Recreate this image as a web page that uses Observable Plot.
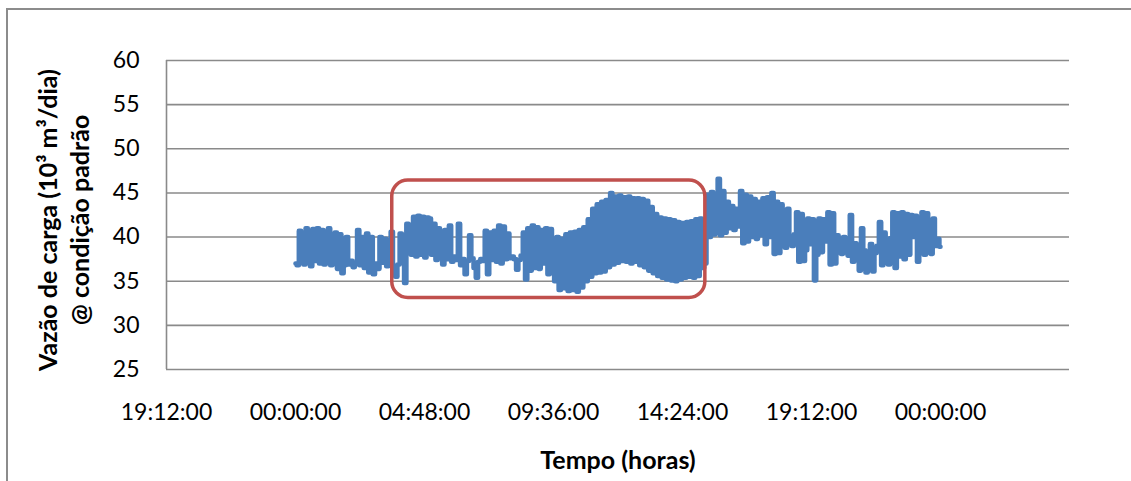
<!DOCTYPE html>
<html>
<head>
<meta charset="utf-8">
<script src="https://cdn.jsdelivr.net/npm/d3@7"></script>
<script src="https://cdn.jsdelivr.net/npm/@observablehq/plot@0.6"></script>
<style>
  html, body { margin: 0; padding: 0; background: #fff; }
  #wrap { position: relative; width: 1131px; height: 481px; overflow: hidden; }
  #frame { position: absolute; left: 6px; top: 8px; width: 1300px; height: 700px;
           border-left: 2px solid #8c8c8c; border-top: 2px solid #8c8c8c;
           pointer-events: none; z-index: 2; }
  #chart { position: absolute; left: 0; top: 0; }
</style>
</head>
<body>
<div id="wrap">
  <div id="chart"></div>
  <div id="frame"></div>
</div>
<script>
// Flow rate readings, one every 5 minutes over 24 h (10^3 m3/dia @ condição padrão)
const sampleMinutes = 5;
const flowRate = [
  37.0, 36.8, 40.7, 37.2, 36.9, 41.0, 37.1, 36.7, 40.9, 37.3, 41.0, 37.0, // 00h
  40.8, 36.9, 37.2, 41.0, 36.8, 37.0, 40.5, 36.4, 40.3, 35.9, 36.8, 40.0, // 01h
  36.9, 37.3, 36.6, 37.1, 40.8, 36.8, 40.0, 36.5, 40.4, 36.0, 40.0, 35.8, // 02h
  37.0, 36.4, 40.0, 37.1, 39.8, 36.7, 39.5, 40.6, 36.2, 35.5, 36.9, 40.4, // 03h
  38.5, 34.8, 41.5, 38.6, 38.0, 42.3, 37.8, 42.4, 38.0, 42.3, 37.7, 42.2, // 04h
  42.1, 38.0, 41.5, 37.4, 41.0, 37.8, 36.9, 40.8, 37.5, 41.3, 37.2, 37.8, // 05h
  37.4, 41.5, 36.8, 37.5, 35.8, 37.3, 40.2, 37.6, 36.5, 35.4, 37.2, 37.5, // 06h
  37.3, 40.7, 35.8, 40.5, 37.4, 40.7, 37.2, 41.3, 37.0, 41.2, 37.5, 40.4, // 07h
  37.6, 37.8, 37.5, 36.3, 37.4, 37.9, 40.5, 35.2, 41.0, 36.2, 41.3, 36.5, // 08h
  41.1, 36.4, 40.8, 37.0, 41.0, 35.8, 40.9, 36.2, 35.0, 40.0, 34.0, 39.8, // 09h
  34.2, 40.3, 33.9, 40.5, 34.0, 40.6, 33.8, 40.8, 34.3, 41.1, 35.0, 42.0, // 10h
  35.5, 43.2, 35.9, 43.7, 36.0, 44.0, 36.1, 44.2, 36.6, 45.0, 36.9, 44.6, // 11h
  37.1, 44.7, 37.3, 44.5, 37.2, 44.6, 37.0, 44.4, 37.2, 44.4, 36.8, 44.3, // 12h
  36.6, 44.1, 36.2, 43.4, 35.9, 42.6, 35.6, 42.2, 35.4, 42.1, 35.2, 42.0, // 13h
  35.1, 41.9, 35.0, 41.7, 35.2, 41.6, 35.4, 41.7, 35.5, 41.8, 35.4, 42.0, // 14h
  35.6, 42.1, 36.5, 37.0, 44.8, 40.0, 45.1, 40.3, 44.9, 46.6, 40.2, 45.2, // 15h
  40.5, 44.0, 41.0, 43.5, 40.8, 43.2, 41.2, 45.2, 39.3, 44.8, 39.5, 44.6, // 16h
  40.0, 44.3, 39.8, 44.0, 40.2, 44.4, 39.2, 44.5, 40.0, 45.0, 38.1, 44.0, // 17h
  38.2, 43.7, 40.0, 38.8, 43.2, 40.1, 39.0, 40.3, 42.8, 37.2, 42.6, 37.3, // 18h
  38.5, 42.1, 39.2, 42.0, 35.1, 38.0, 42.1, 38.3, 42.0, 39.5, 42.8, 36.9, // 19h
  42.7, 37.0, 40.2, 39.8, 38.1, 40.0, 39.7, 37.9, 42.5, 37.2, 39.3, 38.8, // 20h
  36.2, 41.0, 38.5, 36.0, 38.4, 39.2, 36.1, 38.2, 39.0, 41.7, 36.8, 40.5, // 21h
  39.5, 36.9, 39.9, 42.8, 36.5, 42.7, 37.8, 42.8, 37.5, 42.6, 38.0, 42.5, // 22h
  40.0, 42.4, 37.2, 40.1, 42.8, 38.0, 42.7, 39.9, 38.1, 42.1, 39.0, 39.8, // 23h
  38.9
];

// Axis settings (hours from 00:00 of the measured day)
const xDomain = [-4.8, 28.8];
const xTicks = [-4.8, 0, 4.8, 9.6, 14.4, 19.2, 24];
const yDomain = [25, 60];
const yTicks = [25, 30, 35, 40, 45, 50, 55, 60];

// Highlighted period (hours, flow range)
const highlight = [{start: 3.6, end: 15.25, low: 33.1, high: 46.4}];

const yTitle = "Vazão de carga (10³ m³/dia)\n@ condição padrão";
const xTitle = "Tempo (horas)";

const series = flowRate.map((v, i) => ({hour: i * sampleMinutes / 60, value: v}));

const pad = n => String(n).padStart(2, "0");
const clock = h => {
  const m = Math.round((((h % 24) + 24) % 24) * 60);
  return `${pad(Math.floor(m / 60))}:${pad(m % 60)}:00`;
};

const font = "Lato, 'Open Sans', sans-serif";

const chart = Plot.plot({
  width: 1131,
  height: 481,
  marginLeft: 166,
  marginRight: 62,
  marginTop: 60,
  marginBottom: 112,
  style: {fontFamily: font, fontSize: "23px", color: "#000", background: "transparent"},
  x: {domain: xDomain, ticks: xTicks, tickFormat: clock, tickSize: 0, tickPadding: 34, label: null},
  y: {domain: yDomain, ticks: yTicks, tickSize: 0, tickPadding: 27, label: null},
  marks: [
    Plot.ruleY(yTicks, {stroke: "#8a8a8a", strokeWidth: 1.6}),
    Plot.ruleX([xDomain[0]], {stroke: "#8a8a8a", strokeWidth: 1.6}),
    Plot.line(series, {
      x: "hour", y: "value", curve: "step",
      stroke: "#4a7ebb", strokeWidth: 4.6,
      strokeLinejoin: "round", strokeLinecap: "round"
    }),
    Plot.rect(highlight, {
      x1: "start", x2: "end", y1: "low", y2: "high",
      fill: "none", stroke: "#c0504d", strokeWidth: 3.5, rx: 16, ry: 16
    }),
    Plot.text([yTitle], {
      frameAnchor: "left", dx: -104, dy: 5, rotate: -90,
      text: d => d, fontWeight: "bold", fontSize: 25, lineHeight: 1.3,
      fill: "#000", textAnchor: "middle"
    }),
    Plot.text([xTitle], {
      frameAnchor: "bottom", dy: 99,
      text: d => d, fontWeight: "bold", fontSize: 25, fill: "#000"
    })
  ]
});

document.getElementById("chart").appendChild(chart);
</script>
</body>
</html>
